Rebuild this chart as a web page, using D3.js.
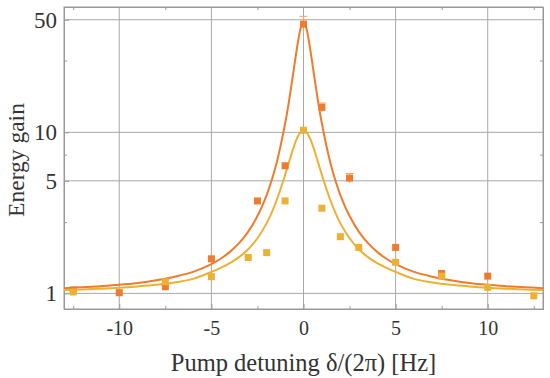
<!DOCTYPE html>
<html>
<head>
<meta charset="utf-8">
<script src="https://cdn.jsdelivr.net/npm/d3@7"></script>
<style>
  html, body { margin: 0; padding: 0; background: #fff; }
  svg { display: block; }
</style>
</head>
<body>
<div id="wrapper"></div>
<script>
// measured points (detuning in Hz, gain)
const orangeX = [-12.5, -10, -7.5, -5, -2.5, -1, 0, 1, 2.5, 5, 7.5, 10];
const orangeY = [1.05, 1.01, 1.10, 1.64, 3.75, 6.2, 47, 14.3, 5.2, 1.93, 1.33, 1.28];
const orangeErr = [0, 0, 0, 0, 0, 0, 5.5, 0.9, 0.35, 0, 0, 0];

const yellowX = [-12.5, -7.5, -5, -3, -2, -1, 0, 1, 2, 3, 5, 7.5, 10, 12.5];
const yellowY = [1.02, 1.18, 1.27, 1.67, 1.79, 3.75, 10.3, 3.38, 2.25, 1.93, 1.56, 1.28, 1.09, 0.966];

// fitted curves
const curveX = [-13, -12, -11, -10, -9, -8, -7, -6, -5, -4.5, -4, -3.5, -3, -2.5, -2, -1.75, -1.5, -1.25, -1,
  -0.8, -0.6, -0.4, -0.3, -0.2, -0.1, 0, 0.1, 0.2, 0.3, 0.4, 0.6, 0.8, 1, 1.25, 1.5, 1.75, 2, 2.5, 3, 3.5, 4,
  4.5, 5, 6, 7, 8, 9, 10, 11, 12, 13];
const orangeHalf = [1.078, 1.092, 1.109, 1.13, 1.16, 1.205, 1.27, 1.36, 1.52, 1.64, 1.81, 2.05, 2.42, 3.02, 4.08,
  4.95, 6.2, 8.2, 11.3, 15.3, 21.6, 30.9, 36.5, 42.2, 46.4];
const yellowHalf = [1.05, 1.059, 1.07, 1.084, 1.104, 1.13, 1.17, 1.23, 1.36, 1.44, 1.54, 1.68, 1.88, 2.2, 2.73,
  3.13, 3.68, 4.43, 5.44, 6.46, 7.67, 8.91, 9.45, 9.91, 10.2];
const orangeCurve = orangeHalf.concat([48], orangeHalf.slice().reverse());
const yellowCurve = yellowHalf.concat([10.3], yellowHalf.slice().reverse());

const xTicks = [-10, -5, 0, 5, 10];
const xMinorTicks = [-12.5, -7.5, -2.5, 2.5, 7.5, 12.5];
const yTicks = [1, 5, 10, 50];
const yMinorTicks = [2.77, 7.27, 27.9];

const orangeColor = "#f07b2c";
const yellowColor = "#ecb034";
const serif = "'Liberation Serif', 'Times New Roman', serif";

const width = 550, height = 378;
const margin = {top: 7, left: 64, bottom: 69, right: 7};

const svg = d3.select("#wrapper").append("svg")
  .attr("width", width)
  .attr("height", height);

const xScale = d3.scaleLinear()
  .domain([-13, 13])
  .range([margin.left, width - margin.right]);

const yScale = d3.scaleLog()
  .domain([0.8, 60])
  .range([height - margin.bottom, margin.top]);

svg.append("defs").append("clipPath").attr("id", "plotclip")
  .append("rect")
  .attr("x", margin.left).attr("y", margin.top)
  .attr("width", width - margin.left - margin.right)
  .attr("height", height - margin.top - margin.bottom);

// grid
const grid = svg.append("g").attr("stroke", "#a8a8a8").attr("stroke-width", 1);
grid.selectAll(".vg").data(xTicks).join("line")
  .attr("x1", d => xScale(d)).attr("x2", d => xScale(d))
  .attr("y1", margin.top).attr("y2", height - margin.bottom);
grid.selectAll(".hg").data(yTicks).join("line")
  .attr("y1", d => yScale(d)).attr("y2", d => yScale(d))
  .attr("x1", margin.left).attr("x2", width - margin.right);

// frame axes with inward ticks
const tickStyle = size => g => {
  g.select(".domain").attr("stroke", "#999");
  g.selectAll(".tick line").attr("stroke", "#999");
  g.selectAll(".tick text")
    .attr("fill", "#333")
    .style("font-family", serif)
    .style("font-size", size + "px");
};

svg.append("g")
  .attr("transform", `translate(0,${height - margin.bottom})`)
  .call(d3.axisBottom(xScale).tickValues(xTicks).tickSizeInner(-5).tickSizeOuter(0).tickPadding(12)
    .tickFormat(d => d < 0 ? "-" + Math.abs(d) : d))
  .call(tickStyle(20));
svg.append("g")
  .attr("transform", `translate(0,${height - margin.bottom})`)
  .call(d3.axisBottom(xScale).tickValues(xMinorTicks).tickSizeInner(-3).tickSizeOuter(0).tickFormat(""))
  .call(tickStyle(20));
svg.append("g")
  .attr("transform", `translate(0,${margin.top})`)
  .call(d3.axisTop(xScale).tickValues(xMinorTicks).tickSizeInner(-3).tickSizeOuter(0).tickFormat(""))
  .call(tickStyle(20));

svg.append("g")
  .attr("transform", `translate(${margin.left},0)`)
  .call(d3.axisLeft(yScale).tickValues(yTicks).tickSizeInner(-5).tickSizeOuter(0).tickPadding(7)
    .tickFormat(d3.format("d")))
  .call(tickStyle(23));
svg.append("g")
  .attr("transform", `translate(${margin.left},0)`)
  .call(d3.axisLeft(yScale).tickValues(yMinorTicks).tickSizeInner(-3).tickSizeOuter(0).tickFormat(""))
  .call(tickStyle(23));
svg.append("g")
  .attr("transform", `translate(${width - margin.right},0)`)
  .call(d3.axisRight(yScale).tickValues(yMinorTicks).tickSizeInner(-3).tickSizeOuter(0).tickFormat(""))
  .call(tickStyle(23));

// full frame
svg.append("rect")
  .attr("x", margin.left).attr("y", margin.top)
  .attr("width", width - margin.left - margin.right)
  .attr("height", height - margin.top - margin.bottom)
  .attr("fill", "none").attr("stroke", "#999");

// curves
const plot = svg.append("g").attr("clip-path", "url(#plotclip)");
const lineGen = d3.line()
  .x((d, i) => xScale(curveX[i]))
  .y(d => yScale(d))
  .curve(d3.curveCatmullRom);

plot.append("path")
  .attr("d", lineGen(orangeCurve))
  .attr("fill", "none").attr("stroke", orangeColor).attr("stroke-width", 2);
plot.append("path")
  .attr("d", lineGen(yellowCurve))
  .attr("fill", "none").attr("stroke", yellowColor).attr("stroke-width", 2);

// error bars on the orange points
const errData = orangeX.map((x, i) => ({x: x, y: orangeY[i], e: orangeErr[i]})).filter(d => d.e > 0);
const eb = plot.append("g").attr("stroke", "#f4a070").attr("stroke-width", 1);
eb.selectAll(".eline").data(errData).join("line")
  .attr("x1", d => xScale(d.x)).attr("x2", d => xScale(d.x))
  .attr("y1", d => yScale(d.y + d.e)).attr("y2", d => yScale(d.y - d.e));
eb.selectAll(".ecap").data(errData).join("line")
  .attr("x1", d => xScale(d.x) - 4).attr("x2", d => xScale(d.x) + 4)
  .attr("y1", d => yScale(d.y + d.e)).attr("y2", d => yScale(d.y + d.e));

// points
const sq = 7;
plot.selectAll(".op").data(orangeX).join("rect")
  .attr("x", d => xScale(d) - sq / 2)
  .attr("y", (d, i) => yScale(orangeY[i]) - sq / 2)
  .attr("width", sq).attr("height", sq)
  .attr("fill", orangeColor);
plot.selectAll(".yp").data(yellowX).join("rect")
  .attr("x", d => xScale(d) - sq / 2)
  .attr("y", (d, i) => yScale(yellowY[i]) - sq / 2)
  .attr("width", sq).attr("height", sq)
  .attr("fill", yellowColor);

// labels
svg.append("text")
  .attr("x", (margin.left + width - margin.right) / 2)
  .attr("y", 371)
  .attr("text-anchor", "middle")
  .attr("fill", "#333")
  .style("font-family", serif)
  .style("font-size", "24.5px")
  .text("Pump detuning δ/(2π) [Hz]");

svg.append("text")
  .attr("transform", `translate(24,${(margin.top + height - margin.bottom) / 2 + 2})rotate(-90)`)
  .attr("text-anchor", "middle")
  .attr("fill", "#333")
  .style("font-family", serif)
  .style("font-size", "23.5px")
  .text("Energy gain");
</script>
</body>
</html>
